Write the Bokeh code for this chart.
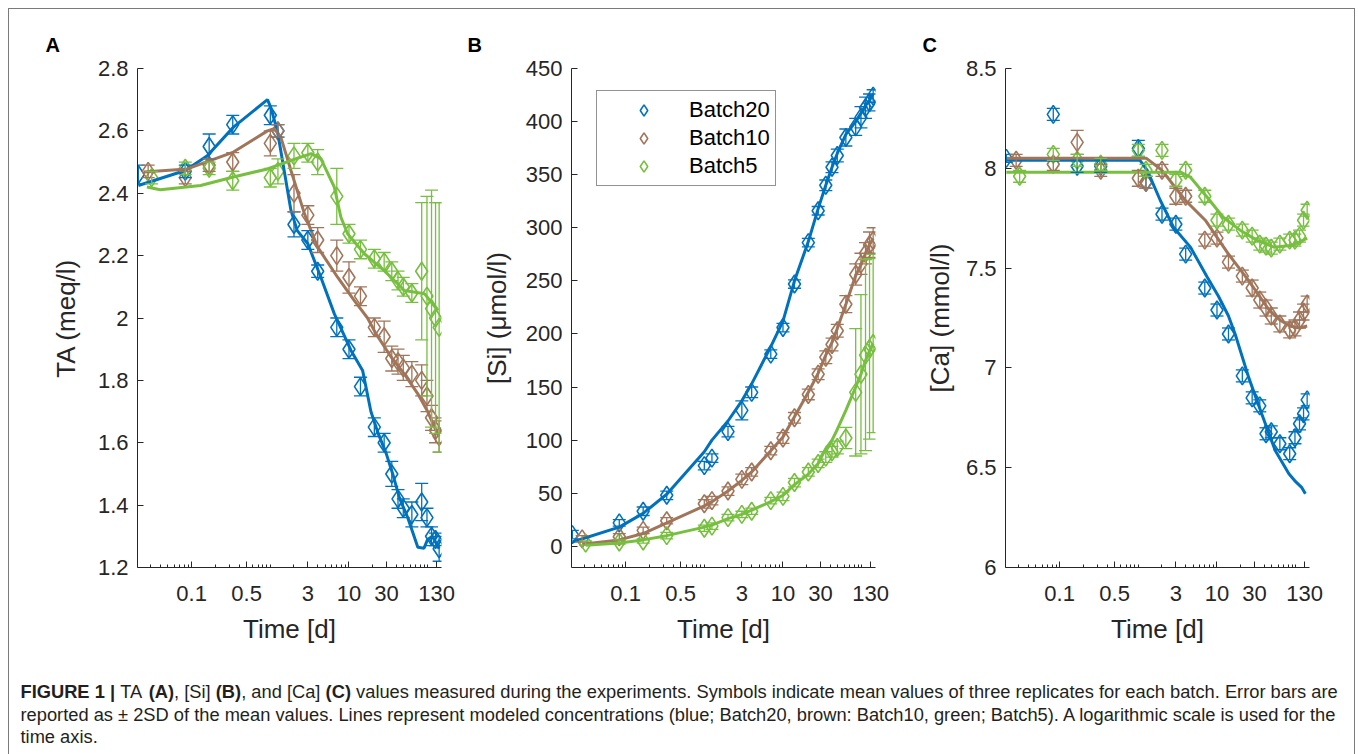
from bokeh.plotting import figure
from bokeh.models import (ColumnDataSource, Whisker, TeeHead, FixedTicker,
                          NumeralTickFormatter, Range1d, Legend, LegendItem)
from bokeh.layouts import row, column
from bokeh.embed import file_html
from bokeh.resources import INLINE
from bokeh.core.properties import value

# ------------------------------------------------------------------ data
t_b20 = [0.021, 0.083, 0.167, 0.333, 1, 1.25, 2, 3, 4, 7, 10, 14, 21, 28, 35, 42, 49, 63, 84, 98, 112, 126, 140]
t_b10 = [0.028, 0.083, 0.167, 0.333, 1, 1.25, 2, 3, 4, 7, 10, 14, 21, 28, 35, 42, 49, 63, 84, 98, 112, 126, 140]
t_b5 = [0.031, 0.083, 0.167, 0.333, 1, 1.25, 2, 3, 4, 7, 10, 14, 21, 28, 35, 42, 49, 63, 84, 98, 112, 126, 140]

# (A) TA meq/l
ta_b20 = [2.46, 2.47, 2.55, 2.62, 2.65, 2.60, 2.30, 2.25, 2.15, 1.97, 1.90, 1.78, 1.65, 1.60, 1.50, 1.42, 1.39, 1.37, 1.41, 1.36, 1.30, 1.29, 1.26]
ta_b20_err = [0.03, 0.02, 0.04, 0.03, 0.03, 0.02, 0.04, 0.03, 0.02, 0.03, 0.03, 0.03, 0.03, 0.03, 0.04, 0.03, 0.03, 0.04, 0.06, 0.03, 0.03, 0.02, 0.04]
ta_b10 = [2.47, 2.45, 2.49, 2.50, 2.56, 2.60, 2.40, 2.33, 2.25, 2.20, 2.13, 2.07, 1.97, 1.94, 1.87, 1.86, 1.84, 1.82, 1.80, 1.75, 1.68, 1.64, 1.62]
ta_b10_err = [0.02, 0.02, 0.02, 0.03, 0.04, 0.02, 0.06, 0.03, 0.04, 0.05, 0.05, 0.03, 0.03, 0.05, 0.04, 0.04, 0.04, 0.04, 0.05, 0.05, 0.04, 0.04, 0.05]
ta_b5 = [2.45, 2.48, 2.48, 2.44, 2.45, 2.47, 2.52, 2.53, 2.50, 2.39, 2.27, 2.22, 2.19, 2.18, 2.15, 2.12, 2.10, 2.08, 2.15, 2.07, 2.03, 2.00, 1.97]
ta_b5_err = [0.02, 0.02, 0.02, 0.03, 0.03, 0.04, 0.04, 0.03, 0.04, 0.09, 0.03, 0.03, 0.03, 0.03, 0.03, 0.03, 0.03, 0.03, 0.22, 0.32, 0.38, 0.37, 0.40]

ta_mod_b20_t = [0.021, 0.083, 0.158, 0.34, 0.92, 1.01, 1.23, 1.5, 1.83, 2.2, 3, 4.4, 6.5, 10.6, 14.9, 19, 23.5, 29.7, 36, 43.7, 55.6, 75, 90, 100, 115, 130, 140]
ta_mod_b20 = [2.425, 2.473, 2.52, 2.612, 2.70, 2.676, 2.60, 2.473, 2.345, 2.28, 2.238, 2.13, 2.014, 1.896, 1.832, 1.70, 1.63, 1.566, 1.50, 1.424, 1.361, 1.265, 1.262, 1.29, 1.30, 1.275, 1.26]
ta_mod_b10_t = [0.0247, 0.088, 0.34, 0.92, 1.12, 1.36, 1.83, 2.72, 4.0, 7.2, 11.7, 17.2, 22, 34.5, 50.7, 75, 100, 134, 140]
ta_mod_b10 = [2.468, 2.478, 2.532, 2.60, 2.607, 2.58, 2.473, 2.334, 2.227, 2.13, 2.056, 2.0, 1.95, 1.874, 1.82, 1.757, 1.70, 1.628, 1.62]
ta_mod_b5_t = [0.027, 0.04, 0.13, 0.34, 0.92, 1.83, 3.3, 4.4, 6.5, 7.9, 9.6, 15.7, 28, 50.7, 91, 135]
ta_mod_b5 = [2.42, 2.411, 2.425, 2.452, 2.478, 2.505, 2.527, 2.51, 2.42, 2.323, 2.27, 2.206, 2.152, 2.088, 2.078, 2.024]

# (B) Si umol/l
si_b20 = [11, 22, 33, 48, 76, 83, 108, 128, 145, 181, 206, 247, 286, 316, 340, 357, 368, 385, 395, 404, 413, 418, 424]
si_b20_err = [4, 3, 4, 4, 4, 4, 5, 9, 5, 4, 4, 4, 4, 4, 5, 5, 6, 8, 8, 10, 10, 8, 6]
si_b10 = [7, 9, 15, 24, 40, 43, 52, 63, 70, 90, 102, 121, 143, 162, 178, 190, 203, 228, 256, 266, 276, 284, 288]
si_b10_err = [3, 3, 3, 3, 4, 4, 4, 5, 4, 4, 5, 5, 5, 5, 6, 6, 6, 8, 10, 10, 10, 12, 12]
si_b5 = [3, 4, 5, 10, 17, 19, 27, 30, 33, 43, 47, 60, 70, 78, 84, 89, 93, 102, 145, 162, 180, 186, 191]
si_b5_err = [2, 2, 2, 3, 3, 3, 3, 3, 3, 3, 4, 4, 4, 4, 5, 5, 6, 10, 60, 75, 90, 85, 84]

si_mod_b20_t = [0.021, 0.083, 0.167, 0.333, 1, 1.25, 2, 3, 4, 7, 10, 14, 21, 28, 35, 42, 49, 63, 84, 98, 112, 126, 140]
si_mod_b20 = [4, 18, 31, 49, 89, 100, 118, 137, 153, 188, 212, 250, 287, 318, 340, 357, 370, 388, 400, 408, 415, 420, 426]
si_mod_b10_t = [0.028, 0.083, 0.167, 0.333, 1, 1.25, 2, 3, 4, 7, 10, 14, 21, 28, 35, 42, 49, 63, 84, 98, 112, 126, 140]
si_mod_b10 = [2, 6, 12, 22, 38, 42, 52, 62, 70, 90, 103, 122, 145, 163, 180, 192, 205, 228, 255, 265, 276, 284, 290]
si_mod_b5_t = [0.031, 0.083, 0.167, 0.333, 1, 1.25, 2, 3, 4, 7, 10, 14, 21, 28, 35, 42, 49, 63, 84, 98, 112, 126, 140]
si_mod_b5 = [1, 3, 6, 10, 18, 20, 26, 30, 34, 42, 48, 58, 68, 78, 92, 100, 110, 128, 150, 162, 175, 184, 191]

# (C) Ca mmol/l
ca_b20 = [8.05, 8.27, 8.01, 8.01, 8.10, 7.93, 7.77, 7.72, 7.57, 7.40, 7.29, 7.17, 6.96, 6.85, 6.81, 6.67, 6.68, 6.62, 6.57, 6.65, 6.72, 6.77, 6.84]
ca_b20_err = [0.02, 0.03, 0.03, 0.03, 0.04, 0.03, 0.03, 0.03, 0.03, 0.03, 0.03, 0.03, 0.03, 0.03, 0.03, 0.03, 0.03, 0.03, 0.03, 0.03, 0.03, 0.03, 0.03]
ca_b10 = [8.04, 8.02, 8.13, 7.99, 7.95, 7.93, 7.99, 7.86, 7.86, 7.64, 7.65, 7.53, 7.46, 7.40, 7.34, 7.30, 7.26, 7.22, 7.19, 7.20, 7.24, 7.28, 7.32]
ca_b10_err = [0.03, 0.03, 0.06, 0.03, 0.04, 0.03, 0.03, 0.04, 0.03, 0.03, 0.03, 0.03, 0.03, 0.04, 0.04, 0.04, 0.04, 0.04, 0.04, 0.04, 0.04, 0.04, 0.04]
ca_b5 = [7.96, 8.07, 8.04, 8.02, 8.09, 7.99, 8.09, 7.94, 7.99, 7.86, 7.74, 7.72, 7.69, 7.66, 7.62, 7.61, 7.60, 7.62, 7.64, 7.64, 7.66, 7.74, 7.79]
ca_b5_err = [0.03, 0.03, 0.03, 0.03, 0.03, 0.03, 0.03, 0.03, 0.03, 0.03, 0.03, 0.03, 0.03, 0.03, 0.03, 0.03, 0.03, 0.03, 0.03, 0.03, 0.03, 0.03, 0.03]

ca_mod_b20_t = [0.021, 1.05, 1.3, 1.9, 2.8, 4.6, 7.5, 10.4, 14, 17, 25.4, 37, 55, 82, 100, 120, 133]
ca_mod_b20 = [8.04, 8.04, 7.99, 7.84, 7.705, 7.605, 7.455, 7.36, 7.26, 7.17, 6.95, 6.77, 6.586, 6.47, 6.43, 6.40, 6.37]
ca_mod_b10_t = [0.021, 1.27, 2, 3.95, 7.1, 14, 25, 46, 63, 84, 112, 140]
ca_mod_b10 = [8.05, 8.05, 7.99, 7.84, 7.74, 7.57, 7.44, 7.29, 7.24, 7.21, 7.20, 7.21]
ca_mod_b5_t = [0.021, 3.5, 4.6, 7.5, 12, 19.7, 32, 53, 86, 112, 140]
ca_mod_b5 = [7.98, 7.98, 7.955, 7.855, 7.755, 7.69, 7.64, 7.605, 7.613, 7.63, 7.65]

x_ticks = [0.1, 0.5, 3, 10, 30, 130]
ta_ticks = [1.2, 1.4, 1.6, 1.8, 2, 2.2, 2.4, 2.6, 2.8]
si_ticks = [0, 50, 100, 150, 200, 250, 300, 350, 400, 450]
ca_ticks = [6, 6.5, 7, 7.5, 8, 8.5]
batch_names = ["Batch20", "Batch10", "Batch5"]

# ------------------------------------------------------------------ style
FONT = "Liberation Sans"
BLUE, BROWN, GREEN = "#0072bd", "#a0755a", "#77bf3f"
AXC = "#262626"
XLO, XHI = 0.0205, 150

x_minor = [k * 10.0 ** n for n in range(-2, 3) for k in range(1, 10)
           if XLO < k * 10.0 ** n < XHI and not any(abs(k * 10.0 ** n - m) < 1e-9 for m in x_ticks)]


def panel(letter, letter_dx, ylabel, ylo, yhi, yticks, ylab_standoff, mb_left, mb_right,
          series, models, legend=False):
    p = figure(title=letter, x_axis_type="log", x_range=Range1d(XLO, XHI), y_range=Range1d(ylo, yhi),
               frame_width=304, frame_height=499, min_border_left=mb_left, min_border_right=mb_right,
               min_border_top=59, min_border_bottom=93, output_backend="svg", toolbar_location=None,
               outline_line_color=None, background_fill_color="white", border_fill_color="white")
    p.title.align = "left"
    p.title.offset = letter_dx
    p.title.standoff = 25
    p.title.text_font = FONT
    p.title.text_font_size = "20px"
    p.title.text_font_style = "bold"
    p.title.text_color = "black"
    p.grid.visible = False
    xa, ya = p.xaxis[0], p.yaxis[0]
    xa.ticker = FixedTicker(ticks=x_ticks, minor_ticks=x_minor)
    ya.ticker = FixedTicker(ticks=yticks)
    for ax in (xa, ya):
        ax.formatter = NumeralTickFormatter(format="0[.]0")
        ax.axis_line_color = AXC
        ax.axis_line_width = 1
        ax.major_tick_line_color = AXC
        ax.minor_tick_line_color = AXC
        ax.major_tick_in = 6
        ax.major_tick_out = 0
        ax.minor_tick_in = 3
        ax.minor_tick_out = 0
        ax.major_label_text_font = FONT
        ax.major_label_text_font_size = "22px"
        ax.major_label_text_color = AXC
        ax.axis_label_text_font = FONT
        ax.axis_label_text_font_size = "26px"
        ax.axis_label_text_font_style = "normal"
        ax.axis_label_text_color = AXC
    ya.minor_tick_line_color = None
    xa.axis_label = "Time [d]"
    ya.axis_label = ylabel
    xa.major_label_standoff = 18
    ya.major_label_standoff = 9
    xa.axis_label_standoff = 10
    ya.axis_label_standoff = ylab_standoff

    scatter_rs = []
    for (t, v, e, c) in series:
        src = ColumnDataSource(dict(t=t, v=v, lo=[a - b for a, b in zip(v, e)], hi=[a + b for a, b in zip(v, e)]))
        w = Whisker(source=src, base="t", lower="lo", upper="hi", dimension="height",
                    line_color=c, line_width=1.3, level="glyph",
                    lower_head=TeeHead(size=13, line_color=c, line_width=1.3),
                    upper_head=TeeHead(size=13, line_color=c, line_width=1.3))
        p.add_layout(w)
        r = p.scatter("t", "v", source=src, marker="diamond", size=18, fill_color=None,
                      line_color=c, line_width=1.6)
        scatter_rs.append(r)
    for (t, v, c) in models:
        p.line(t, v, line_color=c, line_width=3)

    if legend:
        lg = Legend(items=[LegendItem(label=n, renderers=[r]) for n, r in zip(batch_names, scatter_rs)],
                    location=(25, 381), glyph_width=83, glyph_height=28, label_height=28,
                    label_standoff=4, spacing=0, padding=5, margin=0,
                    label_text_font=FONT, label_text_font_size="22px", label_text_color="black",
                    border_line_color=AXC, border_line_width=1, background_fill_color="white",
                    background_fill_alpha=1.0)
        p.add_layout(lg)
    return p


pA = panel("A", -92, "TA (meq/l)", 1.2, 2.8, ta_ticks, 14, 128, 14,
           [(t_b20, ta_b20, ta_b20_err, BLUE), (t_b10, ta_b10, ta_b10_err, BROWN), (t_b5, ta_b5, ta_b5_err, GREEN)],
           [(ta_mod_b20_t, ta_mod_b20, BLUE), (ta_mod_b10_t, ta_mod_b10, BROWN), (ta_mod_b5_t, ta_mod_b5, GREEN)])
pB = panel("B", -104, "[Si] (\u03bcmol/l)", -20, 450, si_ticks, 11, 116, 30,
           [(t_b20, si_b20, si_b20_err, BLUE), (t_b10, si_b10, si_b10_err, BROWN), (t_b5, si_b5, si_b5_err, GREEN)],
           [(si_mod_b20_t, si_mod_b20, BLUE), (si_mod_b10_t, si_mod_b10, BROWN), (si_mod_b5_t, si_mod_b5, GREEN)],
           legend=True)
pC = panel("C", -83, "[Ca] (mmol/l)", 6, 8.5, ca_ticks, 8, 100, 45,
           [(t_b20, ca_b20, ca_b20_err, BLUE), (t_b10, ca_b10, ca_b10_err, BROWN), (t_b5, ca_b5, ca_b5_err, GREEN)],
           [(ca_mod_b20_t, ca_mod_b20, BLUE), (ca_mod_b10_t, ca_mod_b10, BROWN), (ca_mod_b5_t, ca_mod_b5, GREEN)])

# ------------------------------------------------------------------ caption
W_REG = {' ': 278, '!': 278, '(': 333, ')': 333, ',': 278, '-': 333, '.': 278, '/': 278, ':': 278, ';': 278,
         '[': 278, ']': 278, '|': 260, '\u00b1': 549}
for ch in "0123456789":
    W_REG[ch] = 556
W_REG.update(dict(zip("ABCDEFGHIJKLMNOPQRSTUVWXYZ",
                      [667, 667, 722, 722, 667, 611, 778, 722, 278, 500, 667, 556, 833, 722, 778, 667, 778, 722,
                       667, 611, 722, 667, 944, 667, 667, 611])))
W_REG.update(dict(zip("abcdefghijklmnopqrstuvwxyz",
                      [556, 556, 500, 556, 556, 278, 556, 556, 222, 222, 500, 222, 833, 556, 556, 556, 556, 333,
                       500, 278, 556, 500, 722, 500, 500, 500])))
W_BOLD = {' ': 278, '(': 333, ')': 333, '|': 280, '1': 556, 'A': 722, 'B': 722, 'C': 722, 'E': 667,
          'F': 611, 'G': 778, 'I': 278, 'R': 722, 'U': 722}


def em(s, bold):
    tab = W_BOLD if bold else W_REG
    return sum(tab.get(ch, 556) for ch in s) / 1000.0


cap_line1 = [("FIGURE 1 |", True), (" TA ", False), ("(A)", True), (", [Si] ", False), ("(B)", True),
             (", and [Ca] ", False), ("(C)", True),
             (" values measured during the experiments. Symbols indicate mean values of three replicates "
              "for each batch. Error bars are", False)]
cap_line2 = ("reported as \u00b1 2SD of the mean values. Lines represent modeled concentrations (blue; Batch20, "
             "brown: Batch10, green; Batch5). A logarithmic scale is used for the")
cap_line3 = "time axis."

FS = 1318.0 / sum(em(s, b) for s, b in cap_line1)
CAP_W, CAP_H = 1345, 94
cap = figure(width=CAP_W, height=CAP_H, x_range=Range1d(0, CAP_W), y_range=Range1d(CAP_H, 0),
             output_backend="svg", toolbar_location=None, min_border=0, outline_line_color=None,
             x_axis_type=None, y_axis_type=None, title=None)
cap.grid.visible = False

bx, by, bt, nx, ny, nt = [], [], [], [], [], []
x = 11.0
for s, b in cap_line1:
    lead = len(s) - len(s.lstrip(" "))
    xs = x + em(s[:lead], b) * FS
    if b:
        bx.append(xs); by.append(31); bt.append(s.strip())
    else:
        nx.append(xs); ny.append(31); nt.append(s.strip())
    x += em(s, b) * FS
nx += [11.0, 11.0]
ny += [54, 76]
nt += [cap_line2, cap_line3]
cap.text(x=bx, y=by, text=bt, text_font=value(FONT), text_font_size=value("%.2fpx" % FS),
         text_font_style="bold", text_baseline="middle", text_color="#231f20")
cap.text(x=nx, y=ny, text=nt, text_font=value(FONT), text_font_size=value("%.2fpx" % FS),
         text_font_style="normal", text_baseline="middle", text_color="#231f20")

layout = column(row(pA, pB, pC), cap,
                styles={"margin-left": "8px", "margin-top": "8px",
                        "border-top": "1px solid #7a7a7a", "border-left": "1px solid #7a7a7a",
                        "border-right": "1px solid #7a7a7a"})

open("out.html", "w").write(file_html(layout, INLINE))
